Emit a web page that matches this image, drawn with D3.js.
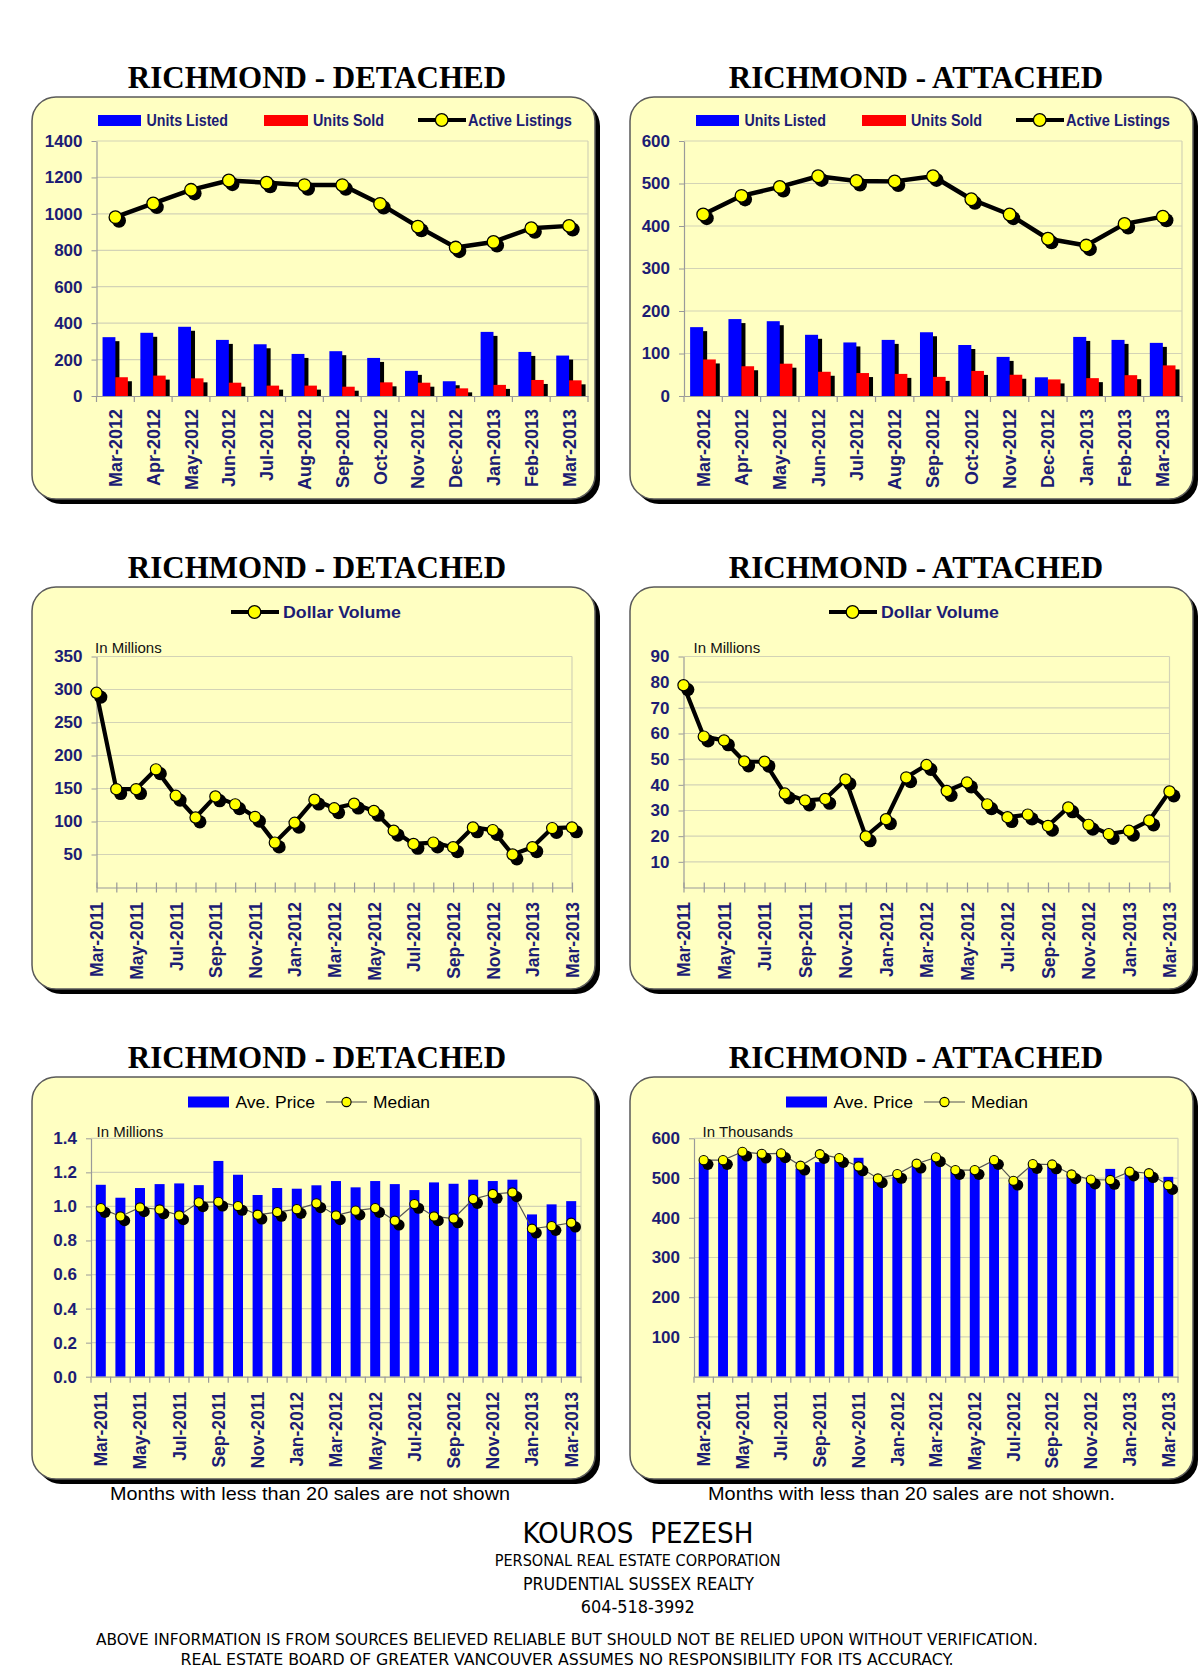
<!DOCTYPE html>
<html>
<head>
<meta charset="utf-8">
<script src="https://cdn.jsdelivr.net/npm/d3@7"></script>
<style>
  body { margin: 0; background: #ffffff; }
  svg { display: block; }
</style>
</head>
<body>
<svg id="chart" width="1200" height="1673"></svg>
<script>
// ---------------- DATA ----------------
const months13 = ["Mar-2012","Apr-2012","May-2012","Jun-2012","Jul-2012","Aug-2012","Sep-2012","Oct-2012","Nov-2012","Dec-2012","Jan-2013","Feb-2013","Mar-2013"];
const months25 = ["Mar-2011","Apr-2011","May-2011","Jun-2011","Jul-2011","Aug-2011","Sep-2011","Oct-2011","Nov-2011","Dec-2011","Jan-2012","Feb-2012","Mar-2012","Apr-2012","May-2012","Jun-2012","Jul-2012","Aug-2012","Sep-2012","Oct-2012","Nov-2012","Dec-2012","Jan-2013","Feb-2013","Mar-2013"];

const detListed = [323,347,380,308,284,231,246,209,138,81,352,242,222];
const detSold   = [103,112,97,73,57,57,51,75,73,42,61,88,86];
const detActive = [982,1057,1132,1183,1171,1158,1158,1055,930,815,846,921,934];

const attListed = [162,181,176,144,126,132,150,120,92,44,139,132,125];
const attSold   = [86,70,76,57,54,52,45,59,50,39,42,49,72];
const attActive = [427,471,492,517,506,505,517,463,427,370,354,405,422];

const detDollarVol = [295,149,149,179,139,106,138,126,107,68,98,133,120,127,116,86,66,68,61,91,87,50,61,90,91];
const attDollarVol = [78.8,58.8,57.3,49.1,49.0,36.6,33.9,34.5,42.1,19.9,26.6,42.9,47.7,37.6,40.9,32.4,27.4,28.4,24.0,31.2,24.4,20.8,22.1,26.1,37.4];

const detAvgPrice = [1.127,1.051,1.108,1.131,1.135,1.125,1.267,1.186,1.067,1.108,1.104,1.124,1.149,1.112,1.149,1.131,1.096,1.141,1.133,1.157,1.149,1.157,0.953,1.012,1.031];
const detMedian   = [0.990,0.941,0.994,0.982,0.947,1.024,1.027,1.002,0.951,0.967,0.984,1.018,0.947,0.975,0.990,0.916,1.014,0.941,0.929,1.043,1.073,1.082,0.869,0.884,0.904];

const attAvgPrice = [539,539,562,558,558,524,540,545,551,495,503,533,550,516,516,541,487,529,529,508,491,523,516,512,503];
const attMedian   = [545,545,566,561,562,531,560,550,529,499,510,536,552,520,520,545,493,535,534,509,496,495,516,512,482];

const ticksUnitsDet = [0,200,400,600,800,1000,1200,1400];
const ticksUnitsAtt = [0,100,200,300,400,500,600];
const ticksDVDet = [50,100,150,200,250,300,350];
const ticksDVAtt = [10,20,30,40,50,60,70,80,90];
const ticksPriceDet = [0,0.2,0.4,0.6,0.8,1.0,1.2,1.4];
const ticksPriceAtt = [100,200,300,400,500,600];

const titles = ["RICHMOND - DETACHED","RICHMOND - ATTACHED"];
const footerLines = ["KOUROS\u00A0\u00A0PEZESH","PERSONAL REAL ESTATE CORPORATION","PRUDENTIAL SUSSEX REALTY","604-518-3992"];
const disclaimerLines = ["ABOVE INFORMATION IS FROM SOURCES BELIEVED RELIABLE BUT SHOULD NOT BE RELIED UPON WITHOUT VERIFICATION.",
                         "REAL ESTATE BOARD OF GREATER VANCOUVER ASSUMES NO RESPONSIBILITY FOR ITS ACCURACY."];

// ---------------- STYLE ----------------
const PANEL_FILL = "#FFFFC2";
const GRID = "#D3D3B6";
const AXIS = "#9A9A9A";
const NAVY = "#1c1c74";
const BLUE = "#0000FF";
const RED = "#FF0000";
const YEL = "#FFFF00";
const SANS = "'Liberation Sans', Arial, sans-serif";
const SERIF = "'Liberation Serif', 'Times New Roman', serif";
const NARROW = "'Liberation Sans Narrow', 'DejaVu Sans Condensed', 'Liberation Sans', sans-serif";

const svg = d3.select("#chart");
const PW = 563, PH = 402;
const colX = [32, 630];
const rowY = [97, 587, 1077];

function drawPanel(x, y) {
  svg.append("rect").attr("x", x + 5).attr("y", y + 5).attr("width", PW).attr("height", PH)
    .attr("rx", 24).attr("fill", "#000");
  svg.append("rect").attr("x", x).attr("y", y).attr("width", PW).attr("height", PH)
    .attr("rx", 24).attr("fill", PANEL_FILL).attr("stroke", "#5a5a5a").attr("stroke-width", 1.5);
}

function drawTitle(cx, y, t) {
  svg.append("text").attr("x", cx).attr("y", y).attr("text-anchor", "middle")
    .attr("font-family", SERIF).attr("font-weight", "bold").attr("font-size", 31)
    .attr("fill", "#000").text(t);
}

function yAxis(g, y, ticks, x0, x1, fmt, gridTicks) {
  g.append("g").selectAll("line").data(gridTicks).join("line")
    .attr("x1", x0).attr("x2", x1).attr("y1", d => y(d)).attr("y2", d => y(d))
    .attr("stroke", GRID).attr("stroke-width", 1.2);
  const r = y.range();
  g.append("line").attr("x1", x1).attr("x2", x1).attr("y1", r[0]).attr("y2", r[1])
    .attr("stroke", GRID).attr("stroke-width", 1.2);
  const ax = g.append("g").attr("transform", `translate(${x0},0)`)
    .call(d3.axisLeft(y).tickValues(ticks).tickFormat(fmt).tickSizeInner(5).tickSizeOuter(0).tickPadding(9));
  ax.select(".domain").attr("stroke", AXIS).attr("stroke-width", 1.2);
  ax.selectAll(".tick line").attr("stroke", AXIS);
  ax.selectAll(".tick text").attr("font-family", SANS).attr("font-weight", "bold")
    .attr("font-size", 17).attr("fill", NAVY);
}

function rotateLabels(ax, gap, size) {
  ax.selectAll(".tick text")
    .attr("transform", "rotate(-90)")
    .attr("x", -gap).attr("y", 0).attr("dy", "0.36em")
    .attr("text-anchor", "end")
    .attr("font-family", SANS).attr("font-weight", "bold").attr("font-size", size).attr("fill", NAVY);
}

function bandXAxis(g, xb, y0, gap, size, labelEvery) {
  const ax = g.append("g").attr("transform", `translate(0,${y0})`)
    .call(d3.axisBottom(xb).tickSize(0).tickPadding(0)
      .tickFormat((d, i) => (i % labelEvery === 0 ? d : "")));
  ax.select(".domain").attr("stroke", AXIS).attr("stroke-width", 1.2);
  rotateLabels(ax, gap, size);
  const bounds = xb.domain().map(d => xb(d)).concat([xb.range()[1]]);
  g.append("g").selectAll("line").data(bounds).join("line")
    .attr("x1", d => d).attr("x2", d => d).attr("y1", y0).attr("y2", y0 + 6)
    .attr("stroke", AXIS).attr("stroke-width", 1.2);
}

function markers(g, pts, r, sr, so, sw) {
  g.append("g").selectAll("circle").data(pts).join("circle")
    .attr("cx", d => d[0] + so).attr("cy", d => d[1] + so).attr("r", sr).attr("fill", "#000");
  g.append("g").selectAll("circle").data(pts).join("circle")
    .attr("cx", d => d[0]).attr("cy", d => d[1]).attr("r", r)
    .attr("fill", YEL).attr("stroke", "#000").attr("stroke-width", sw);
}

function legendText(g, x, y, t, len, opts) {
  g.append("text").attr("x", x).attr("y", y).text(t)
    .attr("font-family", SANS).attr("font-weight", opts.bold ? "bold" : "normal")
    .attr("font-size", opts.size).attr("fill", opts.color)
    .attr("textLength", len).attr("lengthAdjust", "spacingAndGlyphs");
}

// ---------------- ROW 1 : units ----------------
function unitsPanel(px, py, listed, sold, active, ticks, ymax, x0, x1) {
  drawPanel(px, py);
  const g = svg.append("g");
  const y0 = 396, yTop = 141;
  const y = d3.scaleLinear().domain([0, ymax]).range([y0, yTop]);
  const xb = d3.scaleBand().domain(months13).range([x0, x1]);
  const bw = xb.bandwidth();
  yAxis(g, y, ticks, x0, x1, d3.format("d"), ticks.filter(t => t > 0));

  const rows = months13.map((m, i) => ({ m, listed: listed[i], sold: sold[i], active: active[i] }));
  const so = 4;
  g.append("g").selectAll("rect").data(rows).join("rect")
    .attr("x", d => xb(d.m) + bw * 0.16 + so).attr("y", d => y(d.listed) + so)
    .attr("width", bw * 0.34).attr("height", d => Math.max(0, y0 - y(d.listed) - so)).attr("fill", "#000");
  g.append("g").selectAll("rect").data(rows).join("rect")
    .attr("x", d => xb(d.m) + bw * 0.5 + so).attr("y", d => y(d.sold) + so)
    .attr("width", bw * 0.33).attr("height", d => Math.max(0, y0 - y(d.sold) - so)).attr("fill", "#000");
  g.append("g").selectAll("rect").data(rows).join("rect")
    .attr("x", d => xb(d.m) + bw * 0.16).attr("y", d => y(d.listed))
    .attr("width", bw * 0.34).attr("height", d => y0 - y(d.listed)).attr("fill", BLUE);
  g.append("g").selectAll("rect").data(rows).join("rect")
    .attr("x", d => xb(d.m) + bw * 0.5).attr("y", d => y(d.sold))
    .attr("width", bw * 0.33).attr("height", d => y0 - y(d.sold)).attr("fill", RED);

  bandXAxis(g, xb, y0, 13, 18, 1);

  const pts = rows.map(d => [xb(d.m) + bw / 2, y(d.active)]);
  g.append("path").attr("d", d3.line()(pts)).attr("fill", "none")
    .attr("stroke", "#000").attr("stroke-width", 4.5).attr("stroke-linejoin", "round");
  markers(g, pts, 6.3, 7, 3.6, 1.3);

  const ly = py + 23;
  g.append("rect").attr("x", px + 66).attr("y", ly - 5).attr("width", 43).attr("height", 11).attr("fill", BLUE);
  legendText(g, px + 114.5, ly + 6, "Units Listed", 81.5, { bold: true, size: 17, color: NAVY });
  g.append("rect").attr("x", px + 232).attr("y", ly - 5).attr("width", 44).attr("height", 11).attr("fill", RED);
  legendText(g, px + 281, ly + 6, "Units Sold", 71, { bold: true, size: 17, color: NAVY });
  g.append("line").attr("x1", px + 386).attr("x2", px + 434).attr("y1", ly).attr("y2", ly)
    .attr("stroke", "#000").attr("stroke-width", 4);
  g.append("circle").attr("cx", px + 409.7).attr("cy", ly).attr("r", 6.3)
    .attr("fill", YEL).attr("stroke", "#000").attr("stroke-width", 1.3);
  legendText(g, px + 436, ly + 6, "Active Listings", 104, { bold: true, size: 17, color: NAVY });
}

// ---------------- ROW 2 : dollar volume ----------------
function dvPanel(px, py, values, ticks, ymax, x0, x1, inX) {
  drawPanel(px, py);
  const g = svg.append("g");
  const y0 = 887.5, yTop = 656.5;
  const y = d3.scaleLinear().domain([0, ymax]).range([y0, yTop]);
  const xp = d3.scalePoint().domain(months25).range([x0, x1]);
  yAxis(g, y, ticks, x0, x1, d3.format("d"), ticks);

  const ax = g.append("g").attr("transform", `translate(0,${y0})`)
    .call(d3.axisBottom(xp).tickSizeInner(5).tickSizeOuter(0).tickPadding(0)
      .tickFormat((d, i) => (i % 2 === 0 ? d : "")));
  ax.select(".domain").attr("stroke", AXIS).attr("stroke-width", 1.2);
  ax.selectAll(".tick line").attr("stroke", AXIS).attr("stroke-width", 1.2).attr("y1", -5).attr("y2", 5);
  rotateLabels(ax, 14.5, 17.5);

  const pts = months25.map((m, i) => [xp(m), y(values[i])]);
  g.append("path").attr("d", d3.line()(pts)).attr("fill", "none")
    .attr("stroke", "#000").attr("stroke-width", 4.2).attr("stroke-linejoin", "round");
  markers(g, pts, 5.6, 6.6, 4.3, 1.2);

  g.append("text").attr("x", inX).attr("y", py + 66).text("In Millions")
    .attr("font-family", SANS).attr("font-size", 15).attr("fill", "#111");

  const ly = py + 25;
  g.append("line").attr("x1", px + 199).attr("x2", px + 247).attr("y1", ly).attr("y2", ly)
    .attr("stroke", "#000").attr("stroke-width", 4);
  g.append("circle").attr("cx", px + 222.5).attr("cy", ly).attr("r", 6.3)
    .attr("fill", YEL).attr("stroke", "#000").attr("stroke-width", 1.3);
  legendText(g, px + 251, ly + 6, "Dollar Volume", 118, { bold: true, size: 17, color: NAVY });
}

// ---------------- ROW 3 : prices ----------------
function pricePanel(px, py, avg, med, ticks, ymax, x0, x1, fmt, unitLabel, inX, note, noteCx, noteLen) {
  drawPanel(px, py);
  const g = svg.append("g");
  const y0 = 1376.7, yTop = 1138.3;
  const y = d3.scaleLinear().domain([0, ymax]).range([y0, yTop]);
  const xb = d3.scaleBand().domain(months25).range([x0, x1]);
  const bw = xb.bandwidth();
  yAxis(g, y, ticks, x0, x1, fmt, ticks.filter(t => t > 0));

  const rows = months25.map((m, i) => ({ m, avg: avg[i], med: med[i] }));
  g.append("g").selectAll("rect").data(rows).join("rect")
    .attr("x", d => xb(d.m) + bw * 0.245).attr("y", d => y(d.avg))
    .attr("width", bw * 0.51).attr("height", d => y0 - y(d.avg)).attr("fill", BLUE);

  bandXAxis(g, xb, y0, 15, 17.5, 2);

  const pts = rows.map(d => [xb(d.m) + bw / 2, y(d.med)]);
  g.append("path").attr("d", d3.line()(pts)).attr("fill", "none")
    .attr("stroke", "#555").attr("stroke-width", 1.2);
  markers(g, pts, 4.6, 5.6, 4.2, 1.1);

  g.append("text").attr("x", inX).attr("y", py + 60).text(unitLabel)
    .attr("font-family", SANS).attr("font-size", 15).attr("fill", "#111");

  const ly = py + 25;
  g.append("rect").attr("x", px + 156).attr("y", ly - 5.5).attr("width", 41).attr("height", 11).attr("fill", BLUE);
  legendText(g, px + 203.5, ly + 6, "Ave. Price", 79.5, { bold: false, size: 17, color: "#000" });
  g.append("line").attr("x1", px + 294).attr("x2", px + 335).attr("y1", ly).attr("y2", ly)
    .attr("stroke", "#555").attr("stroke-width", 1.2);
  g.append("circle").attr("cx", px + 314.5).attr("cy", ly).attr("r", 4.6)
    .attr("fill", YEL).attr("stroke", "#000").attr("stroke-width", 1.1);
  legendText(g, px + 341, ly + 6, "Median", 57, { bold: false, size: 17, color: "#000" });

  svg.append("text").attr("x", noteCx).attr("y", 1500).attr("text-anchor", "middle").text(note)
    .attr("font-family", SANS).attr("font-size", 19).attr("fill", "#000")
    .attr("textLength", noteLen).attr("lengthAdjust", "spacingAndGlyphs");
}

rowY.forEach(ry => {
  drawTitle(317, ry - 9.5, titles[0]);
  drawTitle(916, ry - 9.5, titles[1]);
});

unitsPanel(colX[0], rowY[0], detListed, detSold, detActive, ticksUnitsDet, 1400, 96.5, 588);
unitsPanel(colX[1], rowY[0], attListed, attSold, attActive, ticksUnitsAtt, 600, 684, 1182);

dvPanel(colX[0], rowY[1], detDollarVol, ticksDVDet, 350, 96.5, 572, 95);
dvPanel(colX[1], rowY[1], attDollarVol, ticksDVAtt, 90, 683.5, 1169.5, 693.5);

pricePanel(colX[0], rowY[2], detAvgPrice, detMedian, ticksPriceDet, 1.4, 91, 581, d3.format(".1f"),
  "In Millions", 96.5, "Months with less than 20 sales are not shown", 310, 400);
pricePanel(colX[1], rowY[2], attAvgPrice, attMedian, ticksPriceAtt, 600, 694, 1178, d3.format("d"),
  "In Thousands", 702.5, "Months with less than 20 sales are not shown.", 911.5, 407);

// footer
const footer = svg.append("g").attr("font-family", NARROW).attr("fill", "#000").attr("text-anchor", "middle");
const footerSpec = [
  { y: 1543, size: 28, len: 231, cx: 638 },
  { y: 1566, size: 15.5, len: 286, cx: 637.7 },
  { y: 1589.5, size: 17.5, len: 231, cx: 638.5 },
  { y: 1613, size: 18, len: 114, cx: 637.7 }
];
footerLines.forEach((t, i) => {
  const s = footerSpec[i];
  footer.append("text").attr("x", s.cx).attr("y", s.y).attr("font-size", s.size)
    .attr("textLength", s.len).attr("lengthAdjust", "spacingAndGlyphs").text(t);
});
const discSpec = [
  { y: 1645, size: 15.5, len: 942, cx: 567 },
  { y: 1665, size: 16, len: 773, cx: 567 }
];
disclaimerLines.forEach((t, i) => {
  const s = discSpec[i];
  footer.append("text").attr("x", s.cx).attr("y", s.y).attr("font-size", s.size)
    .attr("textLength", s.len).attr("lengthAdjust", "spacingAndGlyphs").text(t);
});
</script>
</body>
</html>
